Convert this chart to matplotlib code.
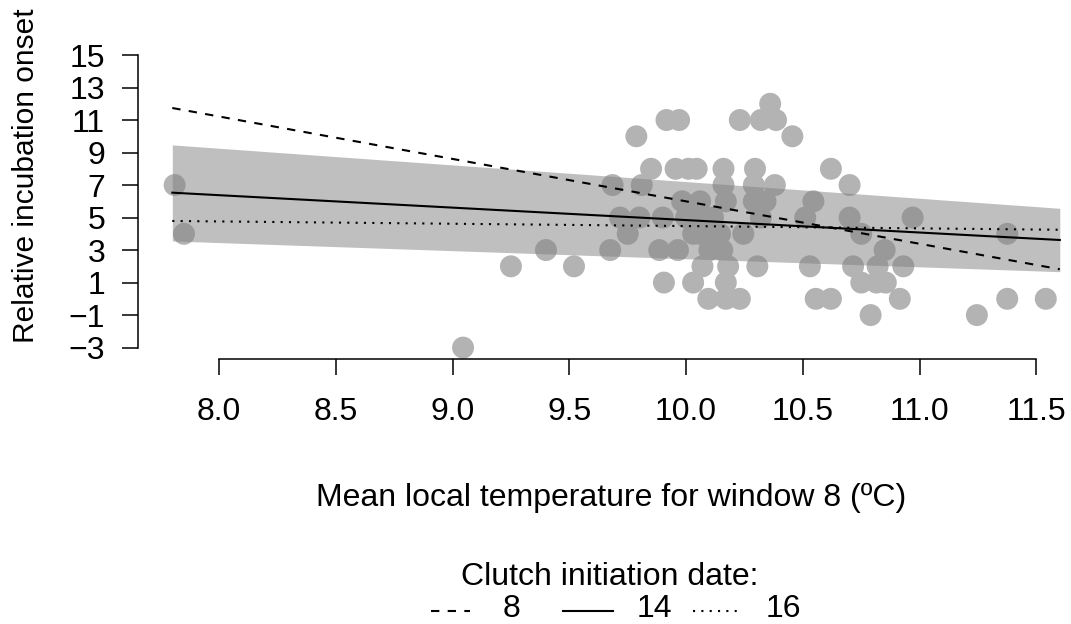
import matplotlib.pyplot as plt
from matplotlib.lines import Line2D

plt.rcParams['font.family'] = ['Liberation Sans', 'DejaVu Sans']

# observed points: mean local temperature vs relative incubation onset
temp = [7.81, 7.85, 9.045, 9.25, 9.40, 9.52,
        9.675, 9.685, 9.717, 9.75, 9.787, 9.80, 9.81, 9.85, 9.885, 9.905,
        9.90, 9.916, 9.97, 9.955, 9.965, 9.983, 10.01, 10.045, 10.03, 10.03,
        10.06, 10.07, 10.095, 10.115, 10.145, 10.16, 10.16, 10.17, 10.155,
        10.18, 10.17, 10.17, 10.23, 10.245, 10.305, 10.23, 10.295, 10.29,
        10.29, 10.32, 10.32, 10.36, 10.38, 10.385, 10.455, 10.34,
        10.0, 10.06, 10.10, 10.12, 10.05,
        10.62, 10.70, 10.545, 10.51, 10.70, 10.97, 10.75, 10.85, 11.375,
        10.53, 10.715, 10.82, 10.93, 10.75, 10.815, 10.855, 10.555, 10.62,
        10.915, 10.79, 11.245, 11.375, 11.54]
onset = [7, 4, -3, 2, 3, 2,
         3, 7, 5, 4, 10, 5, 7, 8, 3, 1,
         5, 11, 11, 8, 3, 6, 8, 8, 4, 1,
         6, 2, 0, 5, 4, 8, 7, 6, 3,
         2, 1, 0, 0, 4, 2, 11, 8, 7,
         6, 5, 11, 12, 7, 11, 10, 6,
         5, 4, 3, 4, 5,
         8, 7, 6, 5, 5, 5, 4, 3, 4,
         2, 2, 2, 2, 1, 1, 1, 0, 0,
         0, -1, -1, 0, 0]

# model predictions at the ends of the temperature range
line_x = [7.80, 11.60]
pred_8 = [11.74, 1.82]
pred_14 = [6.53, 3.62]
pred_16 = [4.79, 4.25]
ci_low = [3.56, 1.67]
ci_high = [9.47, 5.57]

yticks = [-3, -1, 1, 3, 5, 7, 9, 11, 13, 15]
xticks = [8.0, 8.5, 9.0, 9.5, 10.0, 10.5, 11.0, 11.5]

fs = 23

fig = plt.figure(figsize=(10.71, 6.24), dpi=100)
ax = fig.add_axes([0.1286, 0.4242, 0.8714, 0.5064])

ax.scatter(temp, onset, s=250, color='#b3b3b3', edgecolors='none', zorder=1)
ax.fill_between(line_x, ci_low, ci_high, color=(0.5, 0.5, 0.5, 0.5),
                linewidth=0, zorder=2)
ax.plot(line_x, pred_8, color='black', lw=1.5, ls=(0, (4, 4)), zorder=3)
ax.plot(line_x, pred_14, color='black', lw=1.5, zorder=3)
ax.plot(line_x, pred_16, color='black', lw=1.5, ls=(0, (1, 3)), zorder=3)

ax.set_xlim(7.652, 11.648)
ax.set_ylim(-3.72, 15.72)

# R-style axes
for s in ['top', 'right']:
    ax.spines[s].set_visible(False)
ax.spines['left'].set_bounds(-3, 15)
ax.spines['bottom'].set_bounds(8.0, 11.5)
ax.spines['left'].set_linewidth(1.1)
ax.spines['bottom'].set_linewidth(1.1)
ax.set_xticks(xticks)
ax.set_xticklabels(['%.1f' % v for v in xticks])
ax.set_yticks(yticks)
ax.set_yticklabels([str(v).replace('-', '\u2212') for v in yticks])
ax.tick_params(axis='both', length=11.5, width=1.1, labelsize=fs)
ax.tick_params(axis='y', pad=12)
ax.tick_params(axis='x', pad=16)

fig.text(26 / 1071, 1 - 176 / 624, 'Relative incubation onset', rotation=90,
         ha='center', va='center', fontsize=21.5)
fig.text(611 / 1071, 1 - 498 / 624, 'Mean local temperature for window 8 (\u00baC)',
         ha='center', va='center', fontsize=fs)

# legend
fig.text(610 / 1071, 1 - 577 / 624, 'Clutch initiation date:',
         ha='center', va='center', fontsize=fs)
ly = 1 - 611 / 624
ty = 1 - 609 / 624
legend_items = [((431, 470), (0, (4, 4)), '8', 512),
                ((563, 613), '-', '14', 654),
                ((693, 737), (0, (1, 3)), '16', 783)]
for (x0, x1), style, lab, tx in legend_items:
    fig.add_artist(Line2D([x0 / 1071, x1 / 1071], [ly, ly], color='black',
                          lw=1.5, ls=style))
    fig.text(tx / 1071, ty, lab, ha='center', va='center', fontsize=fs)

fig.savefig('out.png', dpi=100)
